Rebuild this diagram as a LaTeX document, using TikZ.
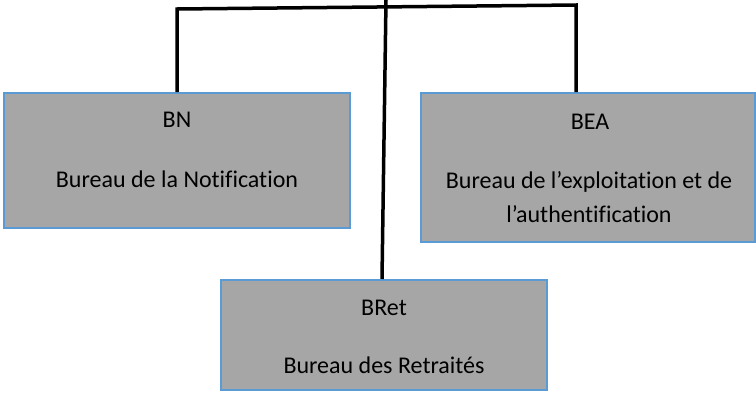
\documentclass[tikz,border=0pt]{standalone}
\usepackage{fontspec}
\setmainfont[Ligatures=NoCommon]{Carlito}
\definecolor{boxfill}{HTML}{A6A6A6}
\definecolor{boxline}{HTML}{5B9BD5}
\tikzset{
  orgbox/.style={draw=boxline, fill=boxfill, line width=2pt, rectangle, inner sep=0pt},
  lbl/.style={font=\fontsize{24}{28}\selectfont, inner sep=0pt, anchor=center, text=black},
  link/.style={draw=black, line width=3.5pt, line join=miter}
}
\begin{document}
\begin{tikzpicture}[x=1pt,y=-1pt]
\useasboundingbox (0,0) rectangle (756,392);
\node[orgbox, minimum width=346pt, minimum height=135pt] (bn) at (177,160.5) {};
\node[orgbox, minimum width=334pt, minimum height=149pt] (bea) at (588,167.5) {};
\node[orgbox, minimum width=326pt, minimum height=110pt] (bret) at (384,335) {};
\node[lbl] (bnt) at (177,120) {BN};
\node[lbl] (bns) at (177,179) {Bureau de la Notification};
\node[lbl] (beat) at (590,122) {BEA};
\node[lbl] (beas1) at (589,182) {Bureau de l’exploitation et de};
\node[lbl] (beas2) at (589,214) {l’authentification};
\node[lbl] (brett) at (384,308) {BRet};
\node[lbl] (brets) at (384,365) {Bureau des Retraités};
\coordinate (top) at (386,0);
\coordinate (jl) at (177,9);
\coordinate (jr) at (576,5);
\draw[link] (bn.north) -- (jl) -- (jr) -- (jr |- bea.north);
\draw[link] (top) -- ([xshift=-2pt]bret.north);
\end{tikzpicture}
\end{document}
